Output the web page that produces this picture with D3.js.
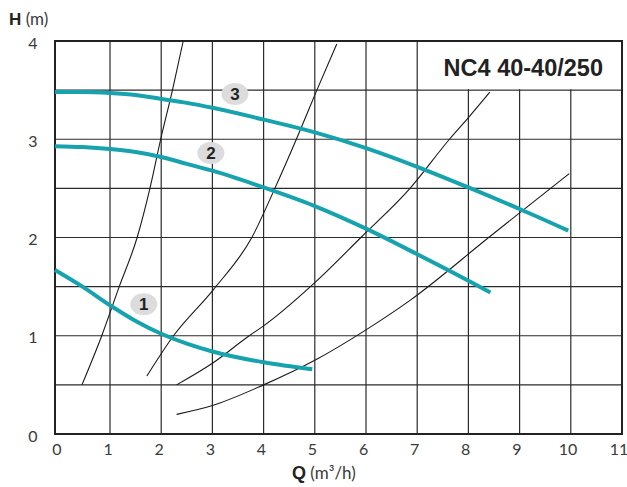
<!DOCTYPE html>
<html>
<head>
<meta charset="utf-8">
<script src="https://cdn.jsdelivr.net/npm/d3@7"></script>
<style>
body {margin: 0; background: #fff;}
svg {display: block;}
.grid {stroke: #2b2b2b; stroke-width: 1.2;}
.frame {fill: none; stroke: #222; stroke-width: 2;}
.pump {fill: none; stroke: #17a3ae; stroke-width: 4;}
.system {fill: none; stroke: #1a1a1a; stroke-width: 1.1;}
.tick-label {font-family: Lato, sans-serif; font-size: 16px; fill: #3a3a3a;}
.badge {fill: #dcdcdc;}
.badge-text {font-family: "Liberation Sans", Arial, sans-serif; font-weight: bold; font-size: 17px; fill: #222;}
</style>
</head>
<body>
<div id="vis"></div>
<script>
const FRAME_WIDTH = 627;
const FRAME_HEIGHT = 487;

// axis ticks
const Q_TICKS = [0, 1, 2, 3, 4, 5, 6, 7, 8, 9, 10, 11];
const H_TICKS = [0, 1, 2, 3, 4];
const H_GRID = [0.5, 1, 1.5, 2, 2.5, 3, 3.5];

// pump curves (Q m3/h, H m)
const PUMP_1 = [[0, 1.67], [0.5, 1.5], [1, 1.31], [1.5, 1.15], [2, 1.02], [2.5, 0.92], [3, 0.84], [4, 0.73], [4.95, 0.66]];
const PUMP_2 = [[0, 2.93], [0.5, 2.92], [1, 2.9], [1.5, 2.87], [2, 2.82], [2.5, 2.75], [3, 2.68], [4, 2.51], [5, 2.32], [6, 2.09], [7, 1.83], [8, 1.56], [8.43, 1.44]];
const PUMP_3 = [[0, 3.48], [0.5, 3.48], [1, 3.47], [1.5, 3.45], [2, 3.41], [2.5, 3.37], [3, 3.32], [4, 3.2], [5, 3.07], [6, 2.91], [7, 2.72], [8, 2.51], [9, 2.29], [9.95, 2.07]];
const PUMPS = [PUMP_1, PUMP_2, PUMP_3];

// system curves
const SYS_A = [[0.49, 0.5], [0.85, 1], [1.18, 1.5], [1.53, 2], [1.78, 2.5], [1.99, 3], [2.22, 3.5], [2.43, 4]];
const SYS_B = [[1.72, 0.59], [2.24, 1], [3.02, 1.47], [3.77, 2], [4.22, 2.5], [4.64, 3], [5.04, 3.5], [5.43, 3.97]];
const SYS_C = [[2.3, 0.5], [3, 0.72], [3.72, 1], [4, 1.1], [5, 1.54], [5.9, 2], [6.86, 2.5], [7.63, 3], [8, 3.22], [8.42, 3.48]];
const SYS_D = [[2.3, 0.2], [3, 0.29], [4, 0.5], [5, 0.75], [6, 1.06], [6.86, 1.36], [8.42, 2.01], [9, 2.25], [9.97, 2.65]];
const SYSTEMS = [SYS_A, SYS_B, SYS_C, SYS_D];

// curve number badges
const BADGE_TEXT = ["1", "2", "3"];
const BADGE_Q = [1.66, 2.97, 3.44];
const BADGE_H = [1.32, 2.86, 3.46];

const TITLE = "NC4 40-40/250";

const FRAME1 = d3.select("#vis")
                  .append("svg")
                    .attr("width", FRAME_WIDTH)
                    .attr("height", FRAME_HEIGHT);

const X_SCALE = d3.scaleLinear()
                    .domain([0, 1, 11])
                    .range([55, 110, 622]);

const X_LABEL = d3.scaleLinear()
                    .domain([0, 11])
                    .range([56.5, 618.5]);

const Y_SCALE = d3.scaleLinear()
                    .domain([0, 4])
                    .range([434, 41]);

// grid
FRAME1.selectAll(".vgrid")
    .data(Q_TICKS.slice(1, -1))
    .enter()
    .append("line")
        .attr("class", "grid")
        .attr("x1", (d) => X_SCALE(d))
        .attr("x2", (d) => X_SCALE(d))
        .attr("y1", Y_SCALE(0))
        .attr("y2", Y_SCALE(4));

FRAME1.selectAll(".hgrid")
    .data(H_GRID)
    .enter()
    .append("line")
        .attr("class", "grid")
        .attr("x1", X_SCALE(0))
        .attr("x2", X_SCALE(11))
        .attr("y1", (d) => Y_SCALE(d))
        .attr("y2", (d) => Y_SCALE(d));

// title box
FRAME1.append("rect")
    .attr("x", X_SCALE(7) + 1)
    .attr("y", Y_SCALE(4) + 1)
    .attr("width", X_SCALE(11) - X_SCALE(7) - 2)
    .attr("height", Y_SCALE(3.5) - Y_SCALE(4) - 2)
    .attr("fill", "#fff");

FRAME1.append("text")
    .attr("x", X_SCALE(11) - 19)
    .attr("y", 76)
    .attr("text-anchor", "end")
    .attr("font-family", "'Liberation Sans', Arial, sans-serif")
    .attr("font-weight", "bold")
    .attr("font-size", "23.5px")
    .attr("fill", "#222")
    .text(TITLE);

// frame
FRAME1.append("rect")
    .attr("class", "frame")
    .attr("x", X_SCALE(0))
    .attr("y", Y_SCALE(4))
    .attr("width", X_SCALE(11) - X_SCALE(0))
    .attr("height", Y_SCALE(0) - Y_SCALE(4));

const LINE = d3.line()
                .x((d) => X_SCALE(d[0]))
                .y((d) => Y_SCALE(d[1]))
                .curve(d3.curveMonotoneX);

// system curves
FRAME1.selectAll(".system")
    .data(SYSTEMS)
    .enter()
    .append("path")
        .attr("class", "system")
        .attr("d", LINE);

// pump curves
FRAME1.selectAll(".pump")
    .data(PUMPS)
    .enter()
    .append("path")
        .attr("class", "pump")
        .attr("d", LINE);

// badges
FRAME1.selectAll(".badge")
    .data(BADGE_TEXT)
    .enter()
    .append("ellipse")
        .attr("class", "badge")
        .attr("cx", (d, i) => X_SCALE(BADGE_Q[i]))
        .attr("cy", (d, i) => Y_SCALE(BADGE_H[i]))
        .attr("rx", 13.5)
        .attr("ry", 11);

FRAME1.selectAll(".badge-text")
    .data(BADGE_TEXT)
    .enter()
    .append("text")
        .attr("class", "badge-text")
        .attr("x", (d, i) => X_SCALE(BADGE_Q[i]))
        .attr("y", (d, i) => Y_SCALE(BADGE_H[i]))
        .attr("dy", "0.36em")
        .attr("text-anchor", "middle")
        .text((d) => d);

// x tick labels
FRAME1.append("g")
    .attr("transform", "translate(0," + (Y_SCALE(0) + 7) + ")")
    .call(d3.axisBottom(X_LABEL).tickValues(Q_TICKS).tickSize(0).tickFormat(d3.format("d")))
    .call((g) => g.select(".domain").remove())
    .selectAll("text")
        .attr("class", "tick-label")
        .attr("font-family", null)
        .attr("font-size", null)
        .attr("fill", null);

// y tick labels
FRAME1.selectAll(".ylab")
    .data(H_TICKS)
    .enter()
    .append("text")
        .attr("class", "tick-label")
        .attr("x", 33)
        .attr("y", (d) => Y_SCALE(d) + 2)
        .attr("dy", "0.35em")
        .attr("text-anchor", "middle")
        .text((d) => d);

// axis titles
const H_TITLE = FRAME1.append("text")
    .attr("x", 9)
    .attr("y", 25)
    .attr("fill", "#222");
H_TITLE.append("tspan")
    .attr("font-family", "'Liberation Sans', Arial, sans-serif")
    .attr("font-weight", "bold")
    .attr("font-size", "17px")
    .text("H");
H_TITLE.append("tspan")
    .attr("font-family", "Lato, sans-serif")
    .attr("font-size", "17px")
    .attr("fill", "#3a3a3a")
    .text(" (m)");

const Q_TITLE = FRAME1.append("text")
    .attr("x", 292)
    .attr("y", 479)
    .attr("fill", "#222");
Q_TITLE.append("tspan")
    .attr("font-family", "'Liberation Sans', Arial, sans-serif")
    .attr("font-weight", "bold")
    .attr("font-size", "18px")
    .text("Q");
Q_TITLE.append("tspan")
    .attr("font-family", "Lato, sans-serif")
    .attr("font-size", "17px")
    .attr("fill", "#3a3a3a")
    .text(" (m³/h)");
</script>
</body>
</html>
